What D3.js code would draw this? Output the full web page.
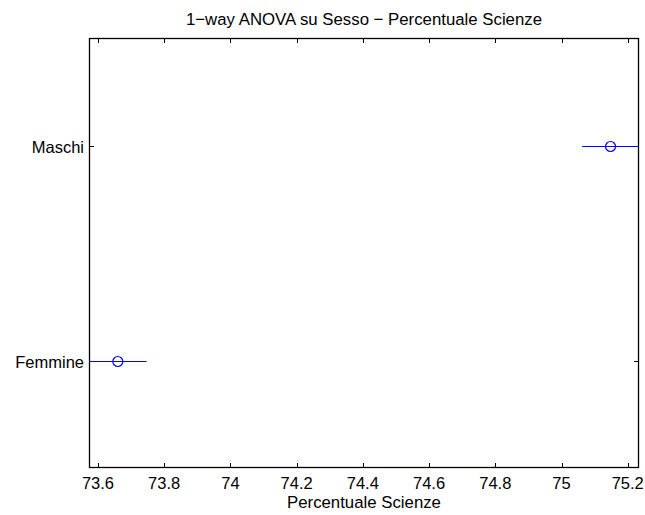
<!DOCTYPE html>
<html><head><meta charset="utf-8">
<script src="https://cdn.jsdelivr.net/npm/d3@7"></script>
<style>body{margin:0;background:#fff}text{font-family:"Liberation Sans",Arial,sans-serif;fill:#000}</style>
</head><body>
<svg id="c" width="645" height="515"></svg>
<script>
const categories = ["Femmine", "Maschi"];
const means = [73.660, 75.148];
const halfWidths = [0.087, 0.086];
const xTicks = [73.6, 73.8, 74, 74.2, 74.4, 74.6, 74.8, 75, 75.2];
const title = "1\u2212way ANOVA su Sesso \u2212 Percentuale Scienze";
const xLabel = "Percentuale Scienze";

const svg = d3.select("#c");
const L = 89, R = 639, T = 38, B = 468;
const lows = means.map((m, i) => m - halfWidths[i]);
const highs = means.map((m, i) => m + halfWidths[i]);
const x = d3.scaleLinear().domain([d3.min(lows), d3.max(highs)]).range([L, R]);
const y = d3.scaleLinear().domain([0.5, categories.length + 0.5]).range([B, T]);
const cy = i => Math.round(y(i + 1)) + 0.5;

const tl = 5;
const g = svg.append("g");
xTicks.forEach(t => {
  const px = Math.round(x(t)) + 0.5;
  g.append("line").attr("x1", px).attr("x2", px).attr("y1", B).attr("y2", B - tl).attr("stroke", "#000");
  g.append("line").attr("x1", px).attr("x2", px).attr("y1", T).attr("y2", T + tl).attr("stroke", "#000");
  g.append("text").attr("x", x(t)).attr("y", B + 21).attr("text-anchor", "middle").attr("font-size", 16.5).text(d3.format("")(t));
});
categories.forEach((c, i) => {
  const py = cy(i);
  g.append("line").attr("x1", L).attr("x2", L + tl).attr("y1", py).attr("y2", py).attr("stroke", "#000");
  g.append("line").attr("x1", R).attr("x2", R - tl).attr("y1", py).attr("y2", py).attr("stroke", "#000");
  g.append("text").attr("x", L - 5).attr("y", py + 6).attr("text-anchor", "end").attr("font-size", 16.5).text(c);
});

svg.append("clipPath").attr("id", "cl").append("rect").attr("x", L).attr("y", T).attr("width", R - L).attr("height", B - T);
const marks = svg.append("g").attr("clip-path", "url(#cl)");
categories.forEach((c, i) => {
  const py = cy(i);
  marks.append("line").attr("x1", x(lows[i])).attr("x2", x(highs[i])).attr("y1", py).attr("y2", py).attr("stroke", "#0000ff").attr("stroke-width", 1.2);
  marks.append("circle").attr("cx", x(means[i])).attr("cy", py).attr("r", 5).attr("fill", "none").attr("stroke", "#0000ff").attr("stroke-width", 1.2);
});

svg.append("rect").attr("x", L + 0.5).attr("y", T + 0.5).attr("width", R - L - 1).attr("height", B - T - 1).attr("fill", "none").attr("stroke", "#000").attr("stroke-width", 1.3);

svg.append("text").attr("x", (L + R) / 2).attr("y", 25).attr("text-anchor", "middle").attr("font-size", 16.8).text(title);
svg.append("text").attr("x", (L + R) / 2).attr("y", 508).attr("text-anchor", "middle").attr("font-size", 16.8).text(xLabel);
</script>
</body></html>
